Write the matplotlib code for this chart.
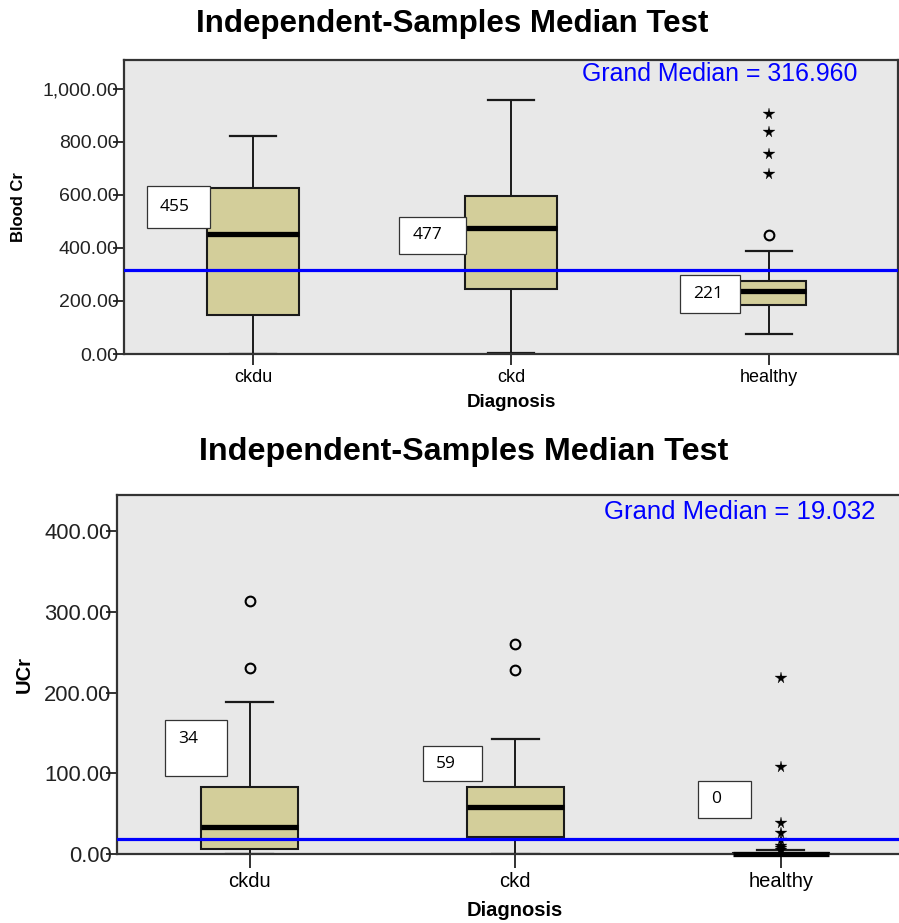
import matplotlib
matplotlib.use('Agg')
import matplotlib.pyplot as plt
from matplotlib.patches import Rectangle
from matplotlib.ticker import FuncFormatter, FixedLocator

# ---------------- data ----------------
categories = ['ckdu', 'ckd', 'healthy']

# Blood Cr
bc_whislo = [0, 4, 75]
bc_q1 = [147, 245, 185]
bc_med = [453, 475, 238]
bc_q3 = [628, 596, 276]
bc_whishi = [823, 958, 389]
bc_circles = [[], [], [449]]
bc_stars = [[], [], [906, 838, 755, 679]]
bc_labels = ['455', '477', '221']
bc_grand_median = 316.960
bc_ticks = [0, 200, 400, 600, 800, 1000]

# UCr
uc_whislo = [0, 0, 0]
uc_q1 = [6, 21, 0]
uc_med = [33, 58, 0.5]
uc_q3 = [83, 83, 1.5]
uc_whishi = [188, 143, 5]
uc_circles = [[313, 230], [260, 228], []]
uc_stars = [[], [], [218, 108, 38, 26, 17, 10, 7, 5]]
uc_labels = ['34', '59', '0']
uc_grand_median = 19.032
uc_ticks = [0, 100, 200, 300, 400]

# ---------------- style ----------------
FONT = 'Liberation Sans'
BOX_FILL = '#D3CE9A'
BG = '#E8E8E8'
BLUE = '#0000FF'

W, H = 899, 923
fig = plt.figure(figsize=(W / 100, H / 100), dpi=100)
fig.patch.set_facecolor('white')


def ax_rect(l, t, r, b):
    return [l / W, 1 - b / H, (r - l) / W, (b - t) / H]


def draw_panel(ax, whislo, q1, med, q3, whishi, circles, stars, labels, gm,
               ticks, ylim, widths, capw, label_boxes, label_dy, ylabel,
               tick_fs, xtick_fs, ylabel_fs, xlabel_fs, gm_fs, gm_pos,
               ylab_x, xlab_y, tick_len, xpad):
    ax.set_facecolor(BG)
    stats = []
    for i in range(len(categories)):
        stats.append(dict(med=med[i], q1=q1[i], q3=q3[i], whislo=whislo[i],
                          whishi=whishi[i], fliers=[], label=categories[i]))
    pos = list(range(1, len(categories) + 1))
    art = ax.bxp(stats, positions=pos, widths=widths, capwidths=capw,
                 patch_artist=True, showfliers=False,
                 boxprops=dict(facecolor=BOX_FILL, edgecolor='#1a1a1a', linewidth=1.5),
                 medianprops=dict(color='black', linewidth=3.8, solid_capstyle='butt'),
                 whiskerprops=dict(color='#1a1a1a', linewidth=1.4),
                 capprops=dict(color='#1a1a1a', linewidth=1.6), zorder=2)
    for m in art['medians']:
        m.set_clip_on(False)
        m.set_zorder(4.6)
    for b in art['boxes']:
        b.set_clip_on(False)
    for p, vals in zip(pos, circles):
        if vals:
            ax.plot([p] * len(vals), vals, linestyle='none', marker='o', ms=7,
                    mfc='none', mec='black', mew=1.5, zorder=3, clip_on=False)
    for p, vals in zip(pos, stars):
        if vals:
            ax.plot([p] * len(vals), vals, linestyle='none', marker='*', ms=8.5,
                    mfc='black', mec='black', mew=0.2, zorder=3, clip_on=False)
    ax.axhline(gm, color=BLUE, linewidth=2.3, zorder=4)

    for lbl, (x0, x1, y0, y1), dy in zip(labels, label_boxes, label_dy):
        ax.add_patch(Rectangle((x0, y0), x1 - x0, y1 - y0, facecolor='white',
                               edgecolor='#333333', linewidth=0.9, zorder=5))
        ax.annotate(lbl, xy=(x0, (y0 + y1) / 2), xytext=(9.5, dy),
                    textcoords='offset points', ha='left', va='center',
                    fontsize=12.5, family='Open Sans', zorder=6)

    ax.set_xlim(0.5, 3.5)
    ax.set_ylim(*ylim)
    ax.yaxis.set_major_locator(FixedLocator(ticks))
    ax.yaxis.set_major_formatter(FuncFormatter(lambda v, _: f'{v:,.2f}'))
    ax.set_xticks(pos)
    ax.set_xticklabels(categories, fontsize=xtick_fs, family=FONT)
    for t in ax.get_yticklabels():
        t.set_fontsize(tick_fs)
        t.set_family(FONT)
        t.set_color('#222222')
    ax.tick_params(axis='y', direction='out', length=8, width=1.3, pad=-4,
                   color='#222222')
    ax.tick_params(axis='x', direction='out', length=tick_len, width=1.3,
                   pad=xpad, color='#222222')
    for s in ax.spines.values():
        s.set_color('#333333')
        s.set_linewidth(1.6)
    ax.set_ylabel(ylabel, fontsize=ylabel_fs, fontweight='bold', family=FONT)
    ax.yaxis.set_label_coords(ylab_x, 0.5)
    ax.set_xlabel('Diagnosis', fontsize=xlabel_fs, fontweight='bold', family=FONT)
    ax.xaxis.set_label_coords(0.5, xlab_y)
    ax.text(gm_pos[0], gm_pos[1], f'Grand Median = {gm:.3f}', transform=ax.transAxes,
            ha='right', va='center', color=BLUE, fontsize=gm_fs, family=FONT)


# ---- top panel ----
ax1 = fig.add_axes(ax_rect(124, 60, 898, 354))
draw_panel(ax1, bc_whislo, bc_q1, bc_med, bc_q3, bc_whishi, bc_circles, bc_stars,
           bc_labels, bc_grand_median, bc_ticks, (0, 1109),
           widths=[0.36, 0.36, 0.29], capw=[0.18, 0.18, 0.18],
           label_boxes=[(0.588, 0.833, 475, 634), (1.567, 1.827, 377, 517),
                        (2.654, 2.887, 155, 298)],
           label_dy=[0, 0, 0], ylabel='Blood Cr',
           tick_fs=14, xtick_fs=13, ylabel_fs=12, xlabel_fs=13.5, gm_fs=17.9,
           gm_pos=(0.948, 0.952), ylab_x=-0.126, xlab_y=-0.135, tick_len=8,
           xpad=3)

# ---- bottom panel ----
ax2 = fig.add_axes(ax_rect(117, 495, 913.5, 854))
draw_panel(ax2, uc_whislo, uc_q1, uc_med, uc_q3, uc_whishi, uc_circles, uc_stars,
           uc_labels, uc_grand_median, uc_ticks, (0, 444.6),
           widths=[0.365, 0.365, 0.36], capw=[0.177, 0.177, 0.177],
           label_boxes=[(0.68, 0.913, 97, 166), (1.653, 1.876, 90, 134),
                        (2.687, 2.887, 45, 90)],
           label_dy=[6, 0, 0], ylabel='UCr',
           tick_fs=15.8, xtick_fs=14.5, ylabel_fs=14.5, xlabel_fs=14.5, gm_fs=18.5,
           gm_pos=(0.952, 0.953), ylab_x=-0.104, xlab_y=-0.13, tick_len=10,
           xpad=3)

# ---- titles ----
fig.text(452 / W, 1 - 24 / H, 'Independent-Samples Median Test', ha='center',
         va='center', fontsize=22.5, fontweight='bold', family=FONT)
fig.text(464 / W, 1 - 452 / H, 'Independent-Samples Median Test', ha='center',
         va='center', fontsize=23.2, fontweight='bold', family=FONT)

fig.savefig('out.png', dpi=100)
